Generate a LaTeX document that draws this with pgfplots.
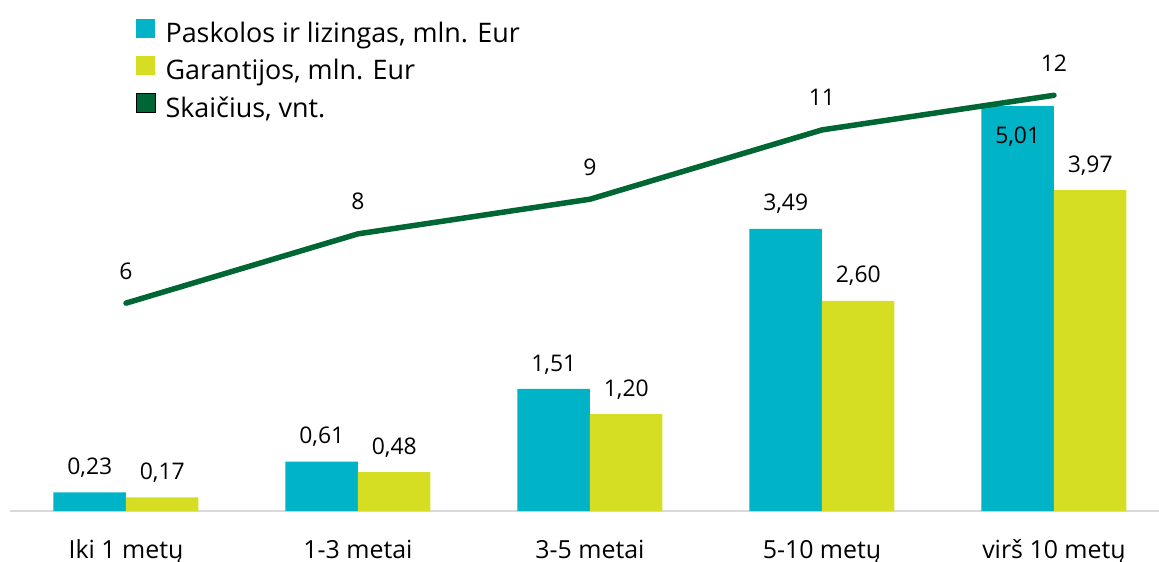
\documentclass[border=0pt]{standalone}
\usepackage{fontspec}
\setmainfont{Open Sans}
\usepackage{pgfplots}
\pgfplotsset{compat=1.18}

\definecolor{teal1}{RGB}{0,179,199}
\definecolor{lime1}{RGB}{214,222,35}
\definecolor{green1}{RGB}{0,102,51}
\definecolor{gray1}{RGB}{217,217,217}

\pgfplotsset{
  base/.style={
    width=1160bp, height=485bp, scale only axis,
    xmin=-0.5, xmax=4.5, ymin=0,
    clip=false,
    /pgf/number format/assume math mode=true,
    font=\fontsize{23}{27}\selectfont,
  },
  sq/.style={legend image code/.code={\fill[##1] (0bp,-5bp) rectangle (19bp,14bp);}},
}

\begin{document}
\begin{tikzpicture}
\path[use as bounding box] (-10bp,-51bp) rectangle (1149bp,511bp);

% bars, left scale
\begin{axis}[base,
    ymax=6,
    ybar=0pt, bar width=72.5bp,
    axis x line*=bottom, axis y line=none,
    x axis line style={draw=gray1, line width=1.5bp, -},
    xtick={0,1,2,3,4}, major tick length=0pt,
    xticklabels={Iki 1 metų, 1-3 metai, 3-5 metai, 5-10 metų, virš 10 metų},
    xticklabel style={anchor=base, yshift=-47bp, font=\fontsize{25}{29}\selectfont},
    legend style={at={(0.1086,1.014)}, anchor=north west, draw=none, fill=none,
      inner sep=0pt, row sep=10bp, column sep=8bp, font=\fontsize{27}{31}\selectfont,
      cells={anchor=west}},
    legend cell align=left,
    nodes near coords={\pgfmathprintnumber[fixed,fixed zerofill,precision=2,use comma]{\pgfplotspointmeta}},
    visualization depends on={rawy \as \ry},
    every node near coord/.append style={anchor=base, inner sep=0pt,
      yshift={\ry>5 ? -38 : 18}},
  ]
\addplot[fill=teal1, draw=none, sq]
  coordinates {(0,0.23) (1,0.61) (2,1.51) (3,3.49) (4,5.01)};
\addlegendentry{Paskolos ir lizingas, mln. Eur}
\addplot[fill=lime1, draw=none, sq]
  coordinates {(0,0.17) (1,0.48) (2,1.20) (3,2.60) (4,3.97)};
\addlegendentry{Garantijos, mln. Eur}
\addlegendimage{sq, fill=green1}
\addlegendentry{Skaičius, vnt.}
\end{axis}

% count line, right scale
\begin{axis}[base,
    ymax=14,
    hide x axis, hide y axis,
    nodes near coords,
    every node near coord/.append style={anchor=base, inner sep=0pt, yshift=24bp, text=black},
  ]
\addplot[green1, line width=5.5bp, line cap=round, line join=round, mark=none]
  coordinates {(0,6) (1,8) (2,9) (3,11) (4,12)};
\end{axis}
\end{tikzpicture}
\end{document}
